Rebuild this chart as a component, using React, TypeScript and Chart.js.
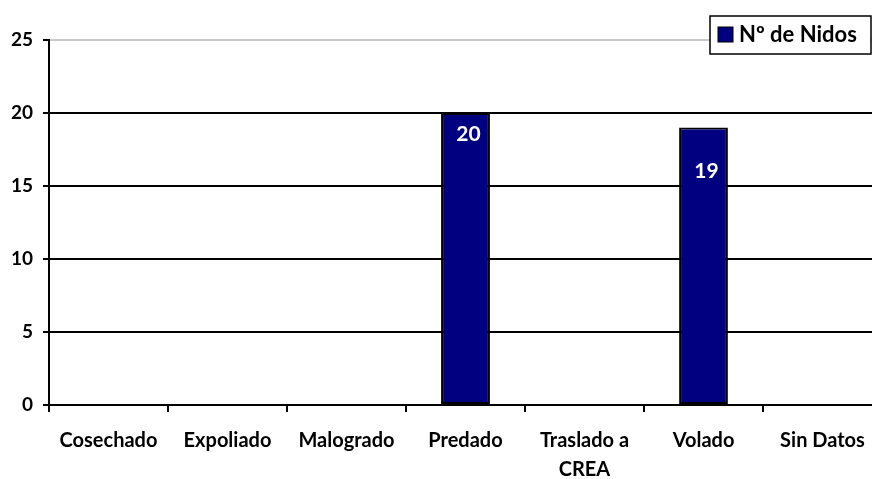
import React, { useEffect, useRef } from "react";
import { Chart, registerables } from "chart.js";

Chart.register(...registerables);

const categories: (string | string[])[] = [
  "Cosechado",
  "Expoliado",
  "Malogrado",
  "Predado",
  ["Traslado a", "CREA"],
  "Volado",
  "Sin Datos",
];
const nidos: (number | null)[] = [null, null, null, 20, null, 19, null];
const seriesLabel = "Nº de Nidos";
const yTicks = [0, 5, 10, 15, 20, 25];

const FONT = "Lato, 'Open Sans', sans-serif";

const labelPlugin = {
  id: "barLabels",
  afterDatasetsDraw(chart: any) {
    const ctx = chart.ctx;
    const meta = chart.getDatasetMeta(0);
    const offsets: number[] = [0, 0, 0, 21, 0, 44, 0];
    ctx.save();
    ctx.fillStyle = "#ffffff";
    ctx.font = `bold 21px ${FONT}`;
    ctx.textAlign = "center";
    ctx.textBaseline = "middle";
    meta.data.forEach((bar: any, i: number) => {
      const v = nidos[i];
      if (v == null) return;
      ctx.fillText(String(v), bar.x + 3, bar.y + offsets[i]);
    });
    ctx.restore();
  },
};

const legendPlugin = {
  id: "customLegend",
  afterDraw(chart: any) {
    const ctx = chart.ctx;
    ctx.save();
    ctx.fillStyle = "#ffffff";
    ctx.fillRect(710, 16, 161, 38);
    ctx.strokeStyle = "#000";
    ctx.lineWidth = 1.5;
    ctx.strokeRect(710, 16, 161, 38);
    ctx.fillStyle = "#000080";
    ctx.fillRect(718, 27, 15, 15);
    ctx.lineWidth = 1;
    ctx.strokeRect(718, 27, 15, 15);
    ctx.fillStyle = "#000";
    ctx.font = `bold 22px ${FONT}`;
    ctx.textAlign = "left";
    ctx.textBaseline = "middle";
    ctx.fillText(seriesLabel, 739, 35);
    ctx.restore();
  },
};

export default function App() {
  const ref = useRef<HTMLCanvasElement>(null);
  useEffect(() => {
    if (!ref.current) return;
    const chart = new Chart(ref.current, {
      type: "bar",
      data: {
        labels: categories as any,
        datasets: [
          {
            label: seriesLabel,
            data: nidos,
            backgroundColor: "#000080",
            borderColor: "#000000",
            borderWidth: 2,
            borderSkipped: false,
            barPercentage: 0.41,
            categoryPercentage: 1,
          },
        ],
      },
      options: {
        animation: false,
        responsive: false,
        maintainAspectRatio: false,
        layout: { padding: { top: 40, left: 0, right: 0, bottom: 0 } },
        plugins: {
          legend: { display: false },
          tooltip: { enabled: false },
        },
        scales: {
          x: {
            offset: true,
            grid: {
              offset: true,
              drawOnChartArea: false,
              drawTicks: true,
              tickLength: 7,
              color: "#000",
              lineWidth: 2,
            },
            border: { display: true, color: "#000", width: 2 },
            ticks: {
              color: "#000",
              font: { family: FONT, size: 20, weight: "bold", lineHeight: 1.45 },
              padding: 14,
              maxRotation: 0,
              autoSkip: false,
            },
            afterFit(scale: any) {
              scale.height = 74;
            },
          },
          y: {
            min: 0,
            max: 25,
            afterBuildTicks(scale: any) {
              scale.ticks = yTicks.map((v) => ({ value: v }));
            },
            grid: {
              color: (c: any) => (c.tick && c.tick.value === 25 ? "#c8c8c8" : "#000"),
              tickColor: "#000",
              lineWidth: 2,
              tickLength: 6,
            },
            border: { display: true, color: "#000", width: 2 },
            ticks: {
              color: "#000",
              font: { family: FONT, size: 19, weight: "bold" },
              padding: 10,
            },
            afterFit(scale: any) {
              scale.width = 49;
            },
          },
        },
      },
      plugins: [labelPlugin, legendPlugin],
    });
    return () => chart.destroy();
  }, []);
  return (
    <div
      style={{
        position: "fixed",
        left: 0,
        top: 0,
        width: 872,
        height: 479,
        overflow: "hidden",
        background: "#fff",
      }}
    >
      <canvas ref={ref} width={882} height={479} style={{ display: "block" }} />
    </div>
  );
}
